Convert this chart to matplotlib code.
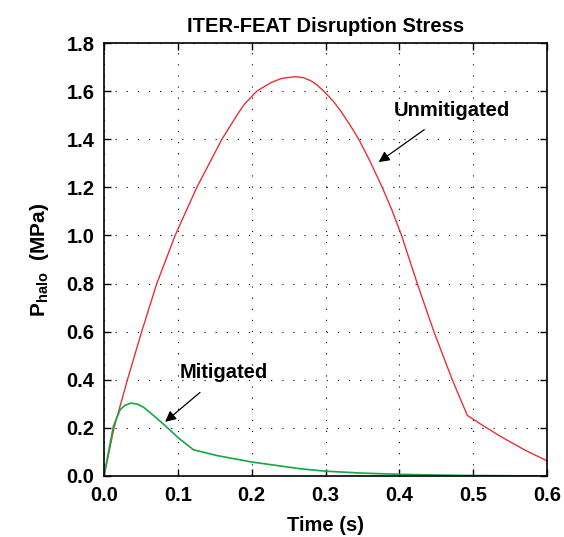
import matplotlib
matplotlib.use("Agg")
import matplotlib.pyplot as plt

# ---- data ----
t_unmit = [0, 0.0136, 0.0317, 0.051, 0.0715, 0.0963, 0.1257, 0.1597, 0.18, 0.19,
           0.207, 0.2252, 0.2388, 0.245, 0.2592, 0.27, 0.2795, 0.288, 0.2976, 0.31,
           0.32, 0.333, 0.345, 0.36, 0.3768, 0.39, 0.403, 0.4243, 0.4468, 0.4717,
           0.492, 0.51, 0.53, 0.546, 0.57, 0.6]
p_unmit = [0, 0.20, 0.40, 0.60, 0.80, 1.00, 1.20, 1.40, 1.50, 1.545,
           1.60, 1.634, 1.651, 1.655, 1.66, 1.656, 1.644, 1.627, 1.60, 1.56,
           1.52, 1.46, 1.40, 1.31, 1.20, 1.105, 1.00, 0.80, 0.60, 0.40,
           0.252, 0.216, 0.178, 0.149, 0.108, 0.063]

t_mit = [0, 0.0059, 0.0127, 0.0217, 0.028, 0.0362, 0.045, 0.0534, 0.0669, 0.0826,
         0.1009, 0.1212, 0.1529, 0.2004, 0.266, 0.3, 0.35, 0.4, 0.45, 0.5, 0.55, 0.6]
p_mit = [0, 0.096, 0.206, 0.275, 0.293, 0.303, 0.299, 0.286, 0.252, 0.21,
         0.158, 0.109, 0.085, 0.058, 0.03, 0.02, 0.012, 0.007, 0.004, 0.002, 0.001, 0.0]

x_ticks = [0.0, 0.1, 0.2, 0.3, 0.4, 0.5, 0.6]
y_ticks = [0.0, 0.2, 0.4, 0.6, 0.8, 1.0, 1.2, 1.4, 1.6, 1.8]

title = "ITER-FEAT Disruption Stress"
xlabel = "Time (s)"
ylabel = r"P$_{\rm halo}$  (MPa)"
label_unmit = "Unmitigated"
label_mit = "Mitigated"

FAM = ["Liberation Sans", "DejaVu Sans"]
plt.rcParams["font.family"] = FAM
plt.rcParams["font.weight"] = "bold"
plt.rcParams["axes.titleweight"] = "bold"
plt.rcParams["mathtext.fontset"] = "custom"
plt.rcParams["mathtext.rm"] = "Liberation Sans:bold"
plt.rcParams["mathtext.it"] = "Liberation Sans:bold"
plt.rcParams["mathtext.bf"] = "Liberation Sans:bold"

fig = plt.figure(figsize=(5.64, 5.37), dpi=100)
ax = fig.add_axes([0.1844, 0.1136, 0.7855, 0.8063])

ax.plot(t_unmit, p_unmit, color="#e8303a", lw=1.0)
ax.plot(t_mit, p_mit, color="#12a845", lw=1.2)

ax.set_xlim(0, 0.6)
ax.set_ylim(0, 1.8)
ax.set_xticks(x_ticks)
ax.set_yticks(y_ticks)
ax.set_xticklabels([f"{v:.1f}" for v in x_ticks])
ax.set_yticklabels([f"{v:.1f}" for v in y_ticks])
ax.tick_params(direction="in", length=5, width=1.0, top=True, right=True,
               labelsize=14.5, pad=7)
for s in ax.spines.values():
    s.set_linewidth(1.2)
ax.grid(True, color="black", linestyle=(0, (1, 9)), linewidth=0.8)

ax.set_title(title, fontsize=14.5, fontweight="bold", pad=8)
ax.set_xlabel(xlabel, fontsize=14.5, fontweight="bold", labelpad=8)
ax.set_ylabel(ylabel, fontsize=15, fontweight="bold", labelpad=11)

ax.annotate(label_unmit, xy=(0.372, 1.305), xytext=(0.471, 1.521),
            ha="center", va="center", fontsize=14.5, fontweight="bold",
            arrowprops=dict(arrowstyle="-|>", color="black", lw=0.9,
                            mutation_scale=16, shrinkA=9, shrinkB=0))
ax.annotate(label_mit, xy=(0.0828, 0.225), xytext=(0.1626, 0.432),
            ha="center", va="center", fontsize=14.5, fontweight="bold",
            arrowprops=dict(arrowstyle="-|>", color="black", lw=0.9,
                            mutation_scale=16, shrinkA=9, shrinkB=0))

fig.savefig("out.png", dpi=100)
